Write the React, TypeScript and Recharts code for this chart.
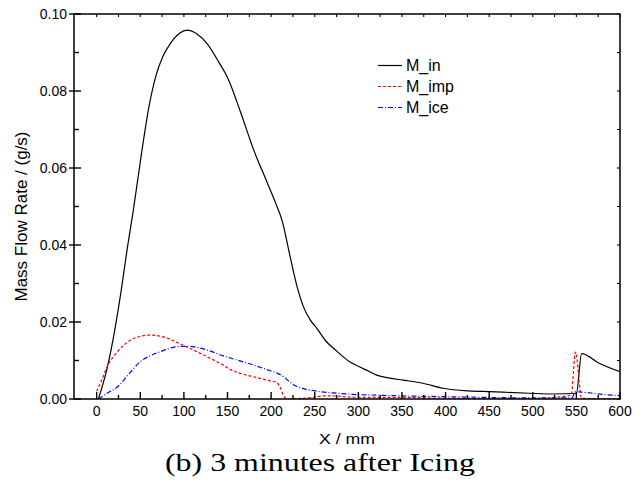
import React, { useState } from 'react';
import { createPortal } from 'react-dom';
import { LineChart, Line, XAxis, YAxis, Legend, Label } from 'recharts';

const xTicks = [0, 25, 50, 75, 100, 125, 150, 175, 200, 225, 250, 275, 300, 325, 350, 375, 400, 425, 450, 475, 500, 525, 550, 575, 600];
const yTicks = [0, 0.01, 0.02, 0.03, 0.04, 0.05, 0.06, 0.07, 0.08, 0.09, 0.1];
const xDomain = [-26, 600];
const yDomain = [0, 0.1];

const mInX = [2, 12, 20, 28, 35, 42, 52, 60, 68, 76, 85, 95, 104, 115, 127, 140, 150, 165, 180, 195, 205, 213, 221, 230, 237, 245, 252, 263, 275, 290, 300, 313, 321, 336, 351, 374, 397, 427, 450, 496, 523, 550, 556, 576, 600];
const mInY = [0, 0.008, 0.017, 0.028, 0.039, 0.049, 0.0647, 0.076, 0.084, 0.089, 0.0925, 0.095, 0.0958, 0.0948, 0.0922, 0.0875, 0.0835, 0.0745, 0.0647, 0.0565, 0.051, 0.046, 0.0378, 0.029, 0.024, 0.0205, 0.0185, 0.015, 0.0125, 0.0097, 0.0085, 0.0071, 0.0062, 0.0054, 0.0049, 0.0041, 0.0028, 0.0021, 0.0019, 0.0015, 0.0013, 0.0015, 0.0118, 0.0093, 0.0071];

const mImpX = [0, 6, 12, 24, 39, 50, 60, 75, 96, 111, 130, 145, 153, 172, 183, 201, 206, 210, 215, 218, 230, 248, 260, 270, 290, 320, 350, 400, 450, 500, 544, 549, 556, 570, 600];
const mImpY = [0.002, 0.005, 0.0084, 0.0123, 0.0153, 0.0163, 0.0166, 0.0162, 0.0143, 0.0127, 0.0106, 0.0088, 0.0077, 0.0062, 0.0056, 0.0046, 0.0044, 0.0032, 0.0006, 0, 0.0001, 0.0004, 0.0008, 0.0008, 0.0005, 0.0004, 0.0004, 0.0002, 0.0001, 0.0001, 0.001, 0.0122, 0.0002, 0.0001, 0.0001];

const mIceX = [2, 12, 24, 37, 50, 62, 73, 92, 104, 115, 127, 145, 160, 180, 198, 206, 214, 221, 229, 237, 256, 275, 294, 320, 351, 400, 450, 500, 545, 549, 560, 580, 600];
const mIceY = [0, 0.0015, 0.0032, 0.0065, 0.0097, 0.0113, 0.0123, 0.0136, 0.0137, 0.0134, 0.0127, 0.0112, 0.0102, 0.0088, 0.0074, 0.0068, 0.0058, 0.0045, 0.0033, 0.0027, 0.0019, 0.0015, 0.0012, 0.001, 0.0008, 0.0006, 0.0004, 0.0003, 0.0003, 0.0019, 0.0017, 0.0012, 0.0009];

const seriesNames = ['M_in', 'M_imp', 'M_ice'];
const seriesColors = ['#000000', '#ff0000', '#0000ff'];
const seriesDash = [undefined, '3 2', '5 2 1 2'];

const toRows = (xs: number[], ys: number[]) => xs.map((x, i) => ({ x, y: ys[i] }));
const mInData = toRows(mInX, mInY);
const mImpData = toRows(mImpX, mImpY);
const mIceData = toRows(mIceX, mIceY);

const INK = '#000000';
const FONT = '"Liberation Sans", Arial, sans-serif';
const SERIF = '"Liberation Serif", "Times New Roman", serif';
const W = 644;
const H = 483;
const PLOT_TOP = 14;
const PLOT_RIGHT = 620;
const YAXIS_W = 74;
const XAXIS_H = 84;

const BottomTick = (props: any) => {
  const { x, y, payload, plotTop, overlay } = props;
  const v = payload.value;
  const major = v % 50 === 0;
  const len = major ? 7 : 4;
  return (
    <g>
      {overlay &&
        createPortal(
          <g>
            <path d={`M${x},${y}L${x},${y - len}`} stroke={INK} strokeWidth={1.4} fill="none" />
            <path d={`M${x},${plotTop}L${x},${plotTop + 3}`} stroke={INK} strokeWidth={1.1} fill="none" />
          </g>,
          overlay
        )}
      {major && (
        <text x={x} y={y + 17} textAnchor="middle" fontSize={14} fontFamily={FONT} fill={INK}>
          {v}
        </text>
      )}
    </g>
  );
};

const LeftTick = (props: any) => {
  const { x, y, payload, plotRight, overlay } = props;
  const v = payload.value;
  const major = Math.round(v * 100) % 2 === 0;
  return (
    <g>
      {overlay &&
        createPortal(
          <g>
            <path d={`M${major ? x - 5 : x},${y}L${x + (major ? 7 : 5)},${y}`} stroke={INK} strokeWidth={1.4} fill="none" />
            <path d={`M${plotRight},${y}L${plotRight - 3},${y}`} stroke={INK} strokeWidth={1.1} fill="none" />
          </g>,
          overlay
        )}
      {major && (
        <text x={x - 7} y={y + 5} textAnchor="end" fontSize={14} fontFamily={FONT} fill={INK}>
          {v.toFixed(2)}
        </text>
      )}
    </g>
  );
};

const YTitle = (props: any) => {
  const { viewBox } = props;
  const cx = 27;
  const cy = viewBox.y + viewBox.height / 2 + 10;
  return (
    <text x={cx} y={cy} transform={`rotate(-90 ${cx} ${cy})`} textAnchor="middle" fontSize={17} fontFamily={FONT} fill={INK}>
      Mass Flow Rate / (g/s)
    </text>
  );
};

const XTitle = (props: any) => {
  const { viewBox } = props;
  const cx = viewBox.x + viewBox.width / 2;
  return (
    <g>
      <text x={cx} y={viewBox.y + 45} textAnchor="middle" fontSize={15} fontFamily={FONT} fill={INK} textLength={56} lengthAdjust="spacingAndGlyphs">
        X / mm
      </text>
      <text x={320} y={viewBox.y + 72} textAnchor="middle" fontSize={26} fontFamily={SERIF} fill={INK} textLength={310} lengthAdjust="spacingAndGlyphs">
        (b) 3 minutes after Icing
      </text>
    </g>
  );
};

const LegendBox = () => (
  <div style={{ lineHeight: '21px' }}>
    {seriesNames.map((n, i) => (
      <div key={n} style={{ display: 'flex', alignItems: 'center', height: 21 }}>
        <svg width={28} height={21} style={{ display: 'block' }}>
          <path d="M0,10.5L24,10.5" stroke={seriesColors[i]} strokeWidth={1.2} strokeDasharray={seriesDash[i]} fill="none" />
        </svg>
        <span style={{ fontFamily: FONT, fontSize: 16, color: INK }}>{n}</span>
      </div>
    ))}
  </div>
);

export default function App() {
  const [overlay, setOverlay] = useState<SVGSVGElement | null>(null);
  const datasets = [mInData, mImpData, mIceData];
  const plotBottom = H - XAXIS_H;
  return (
    <div style={{ position: 'absolute', left: 0, top: 0, width: W, height: H, background: '#ffffff' }}>
      <LineChart width={W} height={H} margin={{ top: PLOT_TOP, right: W - PLOT_RIGHT, left: 0, bottom: 0 }}>
        <XAxis
          xAxisId="b"
          orientation="bottom"
          type="number"
          dataKey="x"
          domain={xDomain}
          ticks={xTicks}
          allowDataOverflow
          height={XAXIS_H}
          tickSize={0}
          tickMargin={0}
          tickLine={false}
          interval={0}
          tick={<BottomTick plotTop={PLOT_TOP} overlay={overlay} />}
          axisLine={false}
        >
          <Label content={<XTitle />} />
        </XAxis>
        <YAxis
          yAxisId="l"
          orientation="left"
          type="number"
          domain={yDomain}
          ticks={yTicks}
          allowDataOverflow
          width={YAXIS_W}
          tickSize={0}
          tickMargin={0}
          tickLine={false}
          interval={0}
          tick={<LeftTick plotRight={PLOT_RIGHT} overlay={overlay} />}
          axisLine={false}
        >
          <Label content={<YTitle />} />
        </YAxis>
        {datasets.map((d, i) => (
          <Line
            key={seriesNames[i]}
            data={d}
            xAxisId="b"
            yAxisId="l"
            dataKey="y"
            name={seriesNames[i]}
            type="monotone"
            stroke={seriesColors[i]}
            strokeWidth={1.2}
            strokeDasharray={seriesDash[i]}
            dot={false}
            isAnimationActive={false}
          />
        ))}
        <Legend
          layout="vertical"
          align="center"
          verticalAlign="middle"
          content={<LegendBox />}
          wrapperStyle={{ position: 'absolute', left: 378, top: 54.5, width: 120, height: 63 }}
        />
      </LineChart>
      <svg
        ref={setOverlay}
        width={W}
        height={H}
        style={{ position: 'absolute', left: 0, top: 0, pointerEvents: 'none' }}
      >
        <rect
          x={YAXIS_W}
          y={PLOT_TOP}
          width={PLOT_RIGHT - YAXIS_W}
          height={plotBottom - PLOT_TOP}
          fill="none"
          stroke={INK}
          strokeWidth={1.5}
        />
      </svg>
    </div>
  );
}
